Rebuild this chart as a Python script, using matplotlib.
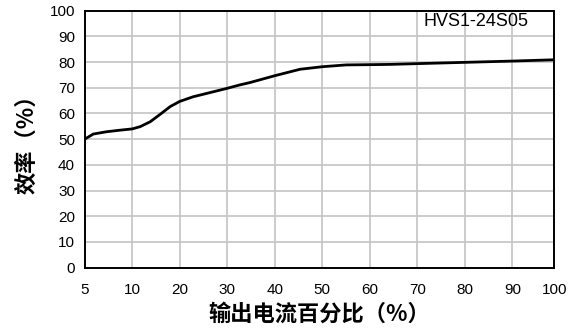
import numpy as np
import matplotlib.pyplot as plt

plt.rcParams['font.family'] = ['Liberation Sans', 'Noto Sans CJK SC', 'DejaVu Sans']

# load (% of rated output current) vs efficiency (%)
load = [5, 5.9, 7.3, 8.7, 10, 11.7, 13.8, 15.9, 18, 20, 22.8, 26.3, 30, 32.6, 34.7,
        40, 45.3, 50, 55, 60, 64.2, 70, 80, 90, 100]
eff = [50.0, 52.0, 52.9, 53.5, 54.0, 54.9, 56.8, 59.7, 62.7, 64.7, 66.5, 68.1, 69.8,
       71.1, 72.0, 74.7, 77.2, 78.2, 78.9, 79.0, 79.1, 79.4, 79.9, 80.4, 80.9]

x_ticks = [5, 10, 20, 30, 40, 50, 60, 70, 80, 90, 100]
y_ticks = list(range(0, 101, 10))

# axis in the original is not linear: 5-10 gets a full cell, 90-100 a slightly short one
tick_pos = [0, 1, 2, 3, 4, 5, 6, 7, 8, 9, 9.88]


def fwd(v):
    return np.interp(v, x_ticks, tick_pos)


def inv(v):
    return np.interp(v, tick_pos, x_ticks)


fig = plt.figure(figsize=(5.84, 3.34), dpi=100)
ax = fig.add_axes([0.145, 0.1985, 0.804, 0.7695])
ax.set_xscale('function', functions=(fwd, inv))

ax.plot(load, eff, color='black', lw=2.0, solid_capstyle='round', solid_joinstyle='round')

ax.set_xlim(5, 100)
ax.set_ylim(0, 100)
ax.set_xticks(x_ticks)
ax.set_xticklabels([str(t) for t in x_ticks])
ax.set_yticks(y_ticks)
ax.minorticks_off()
ax.grid(True, color='#c4c4c4', lw=1.2)
ax.set_axisbelow(True)
ax.tick_params(length=0, labelsize=11, colors='black')
ax.tick_params(axis='x', pad=11)
ax.tick_params(axis='y', pad=7)
for s in ax.spines.values():
    s.set_linewidth(1.4)
    s.set_color('black')

ax.text(0.721, 0.99, 'HVS1-24S05', transform=ax.transAxes, fontsize=13,
        ha='left', va='top')

ax.set_xlabel('输出电流百分比（%）', fontsize=16, fontweight='bold',
              family=['Noto Sans CJK SC', 'DejaVu Sans'], labelpad=4)
ax.set_ylabel('效率（%）', fontsize=16, fontweight='bold',
              family=['Noto Sans CJK SC', 'DejaVu Sans'], labelpad=8)

fig.savefig('out.png', dpi=100)
